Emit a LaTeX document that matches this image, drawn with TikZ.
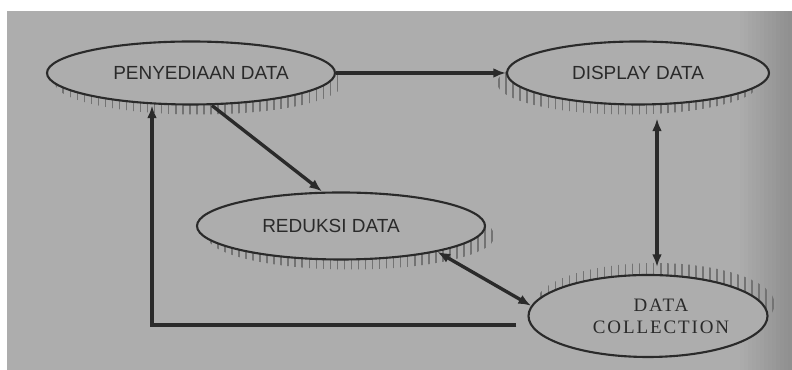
\documentclass[tikz,border=0pt]{standalone}
\usepackage{fontspec}
\usetikzlibrary{shapes.geometric,arrows.meta,patterns.meta}
\newfontfamily\labelfont{Liberation Sans}
\newfontfamily\collfont[LetterSpace=10]{Liberation Serif}
\definecolor{paper}{HTML}{ADADAD}
\definecolor{ink}{HTML}{2A2A2A}
\definecolor{hatchgray}{HTML}{737373}

\begin{document}
\begin{tikzpicture}[>={Latex[length=9pt,width=7pt]},
  proc/.style={ellipse,draw=ink,line width=1.5pt,fill=paper,inner sep=0pt,
    text=ink,font=\labelfont\fontsize{13.5}{15}\selectfont},
  hatch/.style={pattern={Lines[angle=90,distance=5pt,line width=1.1pt]},pattern color=hatchgray},
  link/.style={draw=ink,line width=2.4pt}]

  \useasboundingbox (0,0) rectangle (19.8,9.25);
  \fill[paper] (0.175,0) rectangle (19.8,8.975);
  % page gets darker at the right
  \foreach \i [evaluate=\i as \k using 100-1.3*\i] in {0,...,13}
    \fill[paper!\k!black] (18.4+0.1*\i,0) rectangle ++(0.101,8.975);

  % shadows under the ellipses
  \fill[hatch,shift={(0.2,-0.25)}] (4.775,7.425) ellipse [x radius=3.6cm,y radius=0.7875cm];
  \fill[hatch,shift={(-0.25,-0.25)}] (15.95,7.425) ellipse [x radius=3.275cm,y radius=0.7875cm];
  \fill[hatch,shift={(0.25,-0.25)}] (8.525,3.6) ellipse [x radius=3.6cm,y radius=0.8375cm];
  \fill[hatch,shift={(0.18,0.3)}] (16.2,1.35) ellipse [x radius=2.9875cm,y radius=1.025cm];

  \node[proc,minimum width=7.2cm,minimum height=1.575cm] (pen) at (4.775,7.425) {\hspace*{0.5cm}PENYEDIAAN DATA};
  \node[proc,minimum width=6.55cm,minimum height=1.575cm] (disp) at (15.95,7.425) {DISPLAY DATA};
  \node[proc,minimum width=7.2cm,minimum height=1.675cm] (red) at (8.525,3.6) {REDUKSI DATA\hspace*{0.5cm}};
  \node[proc,minimum width=5.975cm,minimum height=2.05cm,align=center,
    font=\collfont\fontsize{13.5}{15.6}\selectfont] (coll) at (16.2,1.35)
    {\hspace*{0.65cm}DATA\\\hspace*{0.65cm}COLLECTION};

  \coordinate (vtop) at ([xshift=0.475cm]disp.south);
  \coordinate (vbot) at (vtop |- coll.north);

  \draw[link,->] (pen) -- (disp);
  \draw[link,->] ([xshift=0.525cm]pen.south) -- ([xshift=-0.475cm]red.north);
  \draw[link,<->,shorten <=0.325cm,shorten >=0.175cm] (vtop) -- (vbot);
  \draw[link,<->] (red.-15) -- (coll.175);
  \draw[link,->] ([xshift=-0.275cm,yshift=-0.225cm]coll.west) -| ([xshift=-0.975cm]pen.south);

\end{tikzpicture}
\end{document}
